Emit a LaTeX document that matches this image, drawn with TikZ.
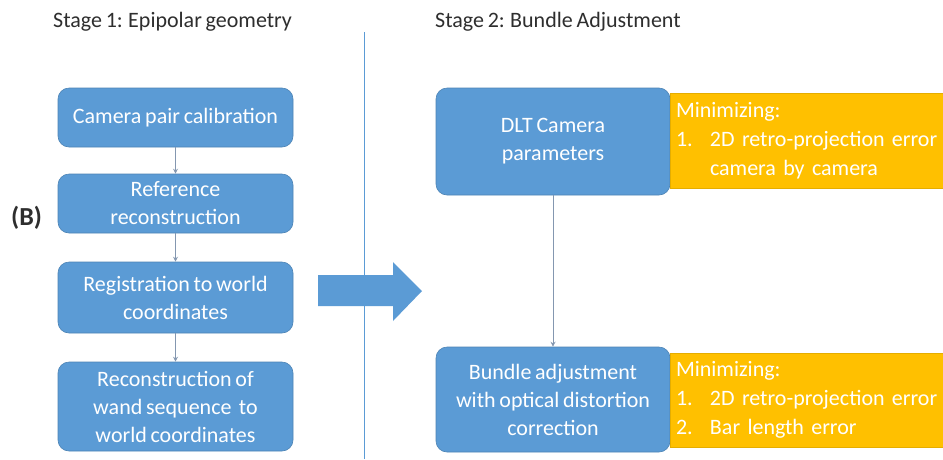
\documentclass[tikz,border=0pt]{standalone}
\usepackage{fontspec}
\setmainfont{Carlito}[WordSpace=0.75]
\usetikzlibrary{arrows.meta}
\definecolor{boxblue}{HTML}{5B9BD5}
\definecolor{boxorange}{HTML}{FFC000}
\definecolor{hdr}{HTML}{2E2E2E}
\definecolor{conn}{HTML}{8497B0}
\tikzset{
  bluebox/.style={draw=boxblue!85!black, line width=0.6pt, fill=boxblue, rounded corners=11pt,
    text=white, align=center, font=\fontsize{22}{28}\selectfont, inner sep=2pt},
  orangebox/.style={fill=boxorange, draw=boxorange!90!black, line width=0.5pt, text=white, align=left,
    font=\fontsize{22}{29}\selectfont, inner xsep=6pt, inner ysep=0pt, text width=261pt},
  header/.style={text=hdr, font=\fontsize{22}{26}\selectfont, inner sep=0pt},
  flow/.style={draw=conn, line width=0.8pt, -{Stealth[length=5pt,width=5pt]}},
}
\newcommand{\numitem}[2]{\mbox{\makebox[34pt][l]{#1}#2}}
\begin{document}
\begin{tikzpicture}[x=1pt,y=-1pt]
\useasboundingbox (0,0) rectangle (943,459);
\fill[white] (0,0) rectangle (943,459);

\node[header, anchor=base west] (h1) at (53,27) {Stage 1: Epipolar geometry};
\node[header, anchor=base west] (h2) at (435,27) {Stage 2: Bundle Adjustment};
\node[header, anchor=base west, font=\fontsize{26}{30}\selectfont\bfseries] (lab) at (11,225) {(B)};

\coordinate (vtop) at (364,32);
\coordinate (vbot) at (364,459);
\draw[boxblue, line width=0.8pt] (vtop) -- (vbot);

\node[bluebox, minimum width=235pt, minimum height=59pt] (b1) at (175.5,117.5) {Camera pair calibration};
\node[bluebox, minimum width=235pt, minimum height=59pt] (b2) at (175.5,203.5) {Reference\\reconstruction};
\node[bluebox, minimum width=235pt, minimum height=71pt] (b3) at (175.5,297.5) {Registration to world\\coordinates};
\node[bluebox, minimum width=235pt, minimum height=89pt] (b4) at (175.5,406.5) {Reconstruction of\\wand sequence\ \ to\\world coordinates};

\draw[flow] (b1) -- (b2);
\draw[flow] (b2) -- (b3);
\draw[flow] (b3) -- (b4);

\fill[boxblue] (318,275) -- (393,275) -- (393,262) -- (422,291) -- (393,321) -- (393,306) -- (318,306) -- cycle;

\node[bluebox, minimum width=234pt, minimum height=107pt] (dlt) at (553,141.5) {DLT Camera\\parameters};
\node[bluebox, minimum width=234pt, minimum height=105pt] (ba) at (553,399.5) {Bundle adjustment\\with optical distortion\\correction};

\node[orangebox, minimum height=95pt] (o1) at (806.5,140.5)
  {\mbox{Minimizing:}\\\numitem{1.}{2D retro-projection error}\\\numitem{}{camera by camera}};
\node[orangebox, minimum height=94pt] (o2) at (806.5,400)
  {\mbox{Minimizing:}\\\numitem{1.}{2D retro-projection error}\\\numitem{2.}{Bar length error}};

\draw[flow] (dlt) -- (ba);
\end{tikzpicture}
\end{document}
